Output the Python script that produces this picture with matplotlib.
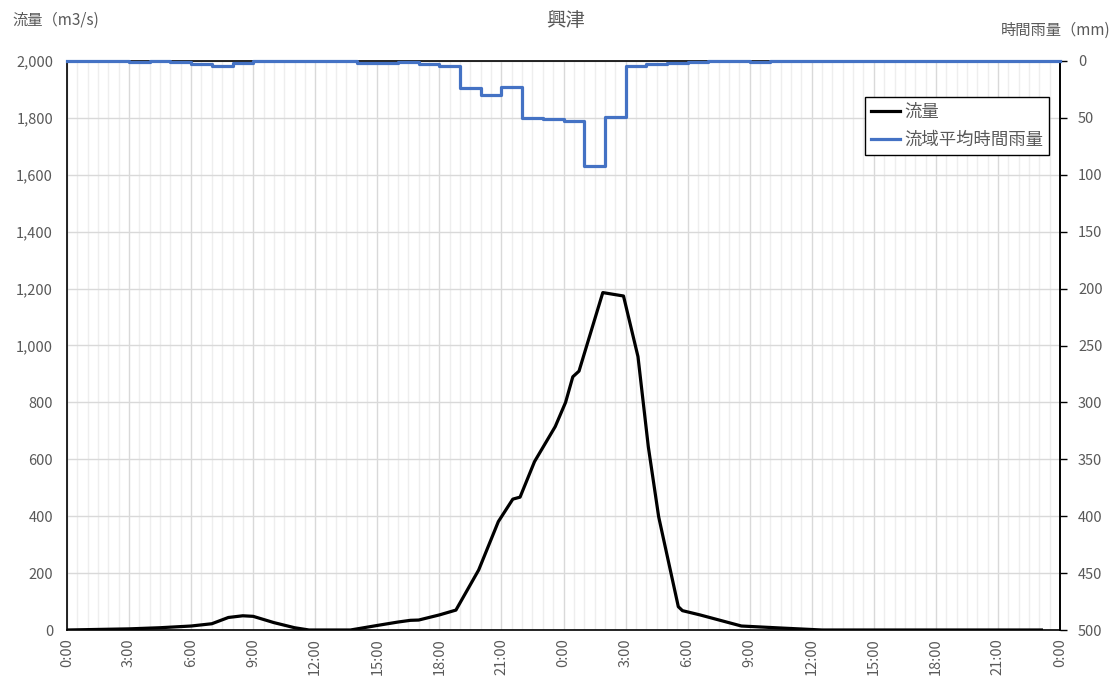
import matplotlib.pyplot as plt
from matplotlib.ticker import FuncFormatter, MultipleLocator

plt.rcParams['font.family'] = ['Noto Sans CJK JP', 'DejaVu Sans']

# 流量 (m3/s) : elapsed hours from 0:00 on day 1
flow_hours = [0.0, 1.5, 3.0, 4.5, 6.0, 7.0, 7.8, 8.5, 9.0, 10.0, 11.0, 11.7,
              13.7, 15.0, 16.0, 16.6, 17.0, 18.0, 18.8, 19.9, 20.85, 21.55,
              21.9, 22.6, 23.6, 24.1, 24.45, 24.75, 25.9, 26.9, 27.6, 28.1,
              28.6, 29.55, 29.75, 30.6, 32.6, 34.5, 36.5, 47.1]
flow = [0, 2, 4, 8, 14, 22, 44, 50, 48, 26, 8, 0,
        0, 16, 28, 34, 35, 53, 70, 211, 381, 460,
        467, 592, 715, 800, 890, 910, 1186, 1174, 961, 644,
        398, 82, 68, 53, 14, 7, 0, 0]

# 流域平均時間雨量 (mm) : one value per hour
rain = [0, 0, 0, 1, 0.4, 1.2, 2.5, 4, 1.5, 0, 0, 0,
        0, 0, 2, 2, 1, 3, 4.5, 24, 30, 22.5, 50, 51,
        53, 92.5, 49.5, 4.2, 2.9, 2.1, 0.9, 0, 0, 0.5, 0, 0,
        0, 0, 0, 0, 0, 0, 0, 0, 0, 0, 0, 0]
rain_hours = list(range(len(rain) + 1))

tick_hours = list(range(0, 49, 3))
tick_labels = [f"{h % 24}:00" for h in tick_hours]

grey = '#595959'
blue = '#4472C4'

fig = plt.figure(figsize=(11.15, 6.79), dpi=100)
ax = fig.add_axes([67 / 1115, 1 - 630 / 679, 993 / 1115, 569 / 679])
ax2 = ax.twinx()

ax.plot(flow_hours, flow, color='black', lw=2.3, solid_joinstyle='round', label='流量', zorder=3)
ax2.step(rain_hours, rain + [rain[-1]], where='post', color=blue, lw=2.3,
         label='流域平均時間雨量', clip_on=False, zorder=3)

ax.set_xlim(0, 48)
ax.set_ylim(0, 2000)
ax2.set_ylim(500, 0)

ax.set_xticks(tick_hours)
ax.set_xticklabels(tick_labels, rotation=90)
ax.xaxis.set_minor_locator(MultipleLocator(0.5))
ax.yaxis.set_major_locator(MultipleLocator(200))
ax.yaxis.set_major_formatter(FuncFormatter(lambda v, p: f"{int(v):,}"))
ax2.yaxis.set_major_locator(MultipleLocator(50))

ax.grid(which='major', axis='both', color='#d9d9d9', lw=1.0, zorder=0)
ax.grid(which='minor', axis='x', color='#eeeeee', lw=1.0, zorder=0)
ax.set_axisbelow(True)

ax.tick_params(axis='x', which='both', length=0, pad=6, labelsize=10.5, labelcolor=grey)
ax.tick_params(axis='y', length=0, pad=10, labelsize=10.5, labelcolor=grey)
ax2.tick_params(axis='y', length=5, width=1, color='black', pad=8,
                labelsize=10.5, labelcolor=grey)

for s in ax.spines.values():
    s.set_color('black')
    s.set_linewidth(1.2)
for name, s in ax2.spines.items():
    s.set_visible(name == 'right')
    s.set_color('black')
    s.set_linewidth(1.2)

h1, l1 = ax.get_legend_handles_labels()
h2, l2 = ax2.get_legend_handles_labels()
leg = ax2.legend(h1 + h2, l1 + l2, loc='upper right',
                 bbox_to_anchor=(1049 / 1115, 1 - 97 / 679), bbox_transform=fig.transFigure,
                 fancybox=False, framealpha=1, edgecolor='black', fontsize=12.5,
                 handlelength=1.7, handletextpad=0.2, labelspacing=0.55,
                 borderpad=0.35, borderaxespad=0)
leg.get_frame().set_linewidth(1.0)
for t in leg.get_texts():
    t.set_color(grey)

fig.text(566 / 1115, 1 - 20 / 679, '興津', ha='center', va='center', fontsize=14, color=grey)
fig.text(12 / 1115, 1 - 20 / 679, '流量（m3/s)', ha='left', va='center', fontsize=11, color=grey)
fig.text(1110 / 1115, 1 - 30 / 679, '時間雨量（mm)', ha='right', va='center', fontsize=11, color=grey)

fig.savefig('out.png', dpi=100)
